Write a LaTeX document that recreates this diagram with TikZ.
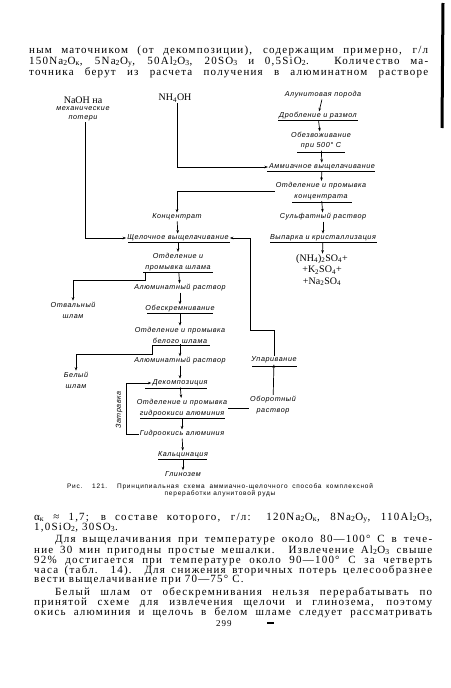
\documentclass[tikz,border=0pt]{standalone}
\usepackage{fontspec}
\setmainfont{Liberation Serif}
\newfontfamily\bodyfont[LetterSpace=11]{Liberation Serif}
\newfontfamily\lblfont[LetterSpace=8]{Liberation Sans}
\newfontfamily\capfont[LetterSpace=12]{Liberation Sans}
\usetikzlibrary{arrows.meta}
\newcommand{\sbs}[1]{\textsubscript{#1}}
\begin{document}
\begin{tikzpicture}[x=1pt,y=-1pt,
  lab/.style={font=\lblfont\fontsize{7.2}{11}\selectfont\itshape, inner sep=1pt, align=center},
  chem/.style={font=\fontsize{10}{11.5}\selectfont, inner sep=0.5pt, align=center},
  bodyline/.style={anchor=base west, inner sep=0pt, font=\bodyfont\fontsize{11}{12}\selectfont},
  capline/.style={inner sep=0pt, font=\capfont\fontsize{6.5}{7}\selectfont},
  arr/.style={-{Stealth[length=3.5pt,width=2.6pt]}, line width=0.7pt},
  ln/.style={line width=0.7pt},
  ul/.style={line width=0.8pt}]
\useasboundingbox (0,0) rectangle (450,688);
\fill[white] (0,0) rectangle (450,688);

% top text
\node[bodyline] (t1) at (29,53) {\makebox[399pt][s]{ным маточником (от декомпозиции), содержащим примерно, г/л}};
\node[bodyline] (t2) at (29,64) {\makebox[399pt][s]{150Na\sbs{2}O\sbs{к}, 5Na\sbs{2}O\sbs{у}, 50Al\sbs{2}O\sbs{3}, 20SO\sbs{3} и 0,5SiO\sbs{2}. Количество ма-}};
\node[bodyline] (t3) at (29,75) {\makebox[399pt][s]{точника берут из расчета получения в алюминатном растворе}};

% flowchart nodes
\node[chem] (naoh) at (83,100) {NaOH на};
\node[lab] (naoh2) at (83,114) {механические\\[-2pt]потери};
\node[chem] (nh4) at (175,98) {NH\sbs{4}OH};
\node[lab] (alun) at (323,95) {Алунитовая порода};
\node[lab] (drob) at (318,116) {Дробление и размол};
\node[lab] (obez) at (321,141) {Обезвоживание\\[-1pt]при 500° С};
\node[lab] (amm) at (322,167) {Аммиачное выщелачивание};
\node[lab] (otdk) at (321,191) {Отделение и промывка\\концентрата};
\node[lab] (konc) at (177,217) {Концентрат};
\node[lab] (sulf) at (323,217) {Сульфатный раствор};
\node[lab] (vyp) at (323,238) {Выпарка и кристаллизация};
\node[chem] (salts) at (322,270) {(NH\sbs{4})\sbs{2}SO\sbs{4}+\\+K\sbs{2}SO\sbs{4}+\\+Na\sbs{2}SO\sbs{4}};
\node[lab] (shch) at (178,238) {Щелочное выщелачивание};
\node[lab] (otds) at (178,262) {Отделение и\\промывка шлама};
\node[lab] (otv) at (73,310) {Отвальный\\шлам};
\node[lab] (alr1) at (180,288) {Алюминатный раствор};
\node[lab] (obes) at (180,309) {Обескремнивание};
\node[lab] (otdb) at (180,335) {Отделение и промывка\\белого шлама};
\node[lab] (bel) at (76,380) {Белый\\шлам};
\node[lab] (alr2) at (180,361) {Алюминатный раствор};
\node[lab] (dek) at (180,383) {Декомпозиция};
\node[lab] (otdg) at (182,408) {Отделение и промывка\\гидроокиси алюминия};
\node[lab] (obor) at (273,405) {Оборотный\\раствор};
\node[lab] (upar) at (274,360) {Упаривание};
\node[lab] (gidr) at (182,434) {Гидроокись алюминия};
\node[lab] (kalc) at (183,455) {Кальцинация};
\node[lab] (glin) at (183,474) {Глинозем};
\node[lab, rotate=90] (zatr) at (119,410) {Затравка};

% underlines
\draw[ul] (278,120) -- (358,120);
\draw[ul] (297,152) -- (345,152);
\draw[ul] (267,171) -- (375,171);
\draw[ul] (292,202) -- (352,202);
\draw[ul] (270,242) -- (377,242);
\draw[ul] (128,242) -- (230,242);
\draw[ul] (143,272) -- (213,272);
\draw[ul] (147,313) -- (213,313);
\draw[ul] (152,345) -- (210,345);
\draw[ul] (145,388) -- (207,388);
\draw[ul] (140,418) -- (225,418);
\draw[ul] (252,366) -- (297,366);
\draw[ul] (158,459) -- (207,459);

% connectors
\coordinate (u2) at (145,272);
\coordinate (u3) at (152,345);
\coordinate (r1) at (250,330);
\draw[arr] (alun) -- (drob);
\draw[arr] (drob) -- (obez);
\draw[arr] (obez) -- (amm);
\draw[arr] ([xshift=2pt]nh4.south) |- (amm.west);
\draw[arr] (amm) -- (otdk);
\draw[arr] (otdk.west) -| (konc.north);
\draw[arr] (otdk) -- (sulf);
\draw[arr] (sulf) -- (vyp);
\draw[arr] (vyp) -- (salts);
\draw[arr] (konc) -- (shch);
\draw[arr] ([xshift=2.5pt]naoh2.south) |- (shch.west);
\draw[arr] (upar.north) |- (r1) |- (shch.east);
\draw[arr] (shch) -- (otds);
\draw[arr] (otds) -- (alr1);
\draw[arr] (u2) -- ++(0,8) -| (otv.north);
\draw[arr] (alr1) -- (obes);
\draw[arr] (obes) -- (otdb);
\draw[arr] (u3) -- ++(0,9) -| (bel.north);
\draw[arr] (otdb) -- (alr2);
\draw[arr] (alr2) -- (dek);
\draw[arr] (dek) -- (otdg);
\draw[arr] (otdg) -- (gidr);
\draw[arr] (gidr.west) -- ++(-12,0) |- (dek.west);
\draw[ln] (otdg.east) -- (obor.west |- otdg.east);
\draw[arr] (obor) -- (upar);
\draw[arr] (gidr) -- (kalc);
\draw[arr] (kalc) -- (glin);

% caption
\node[capline] (cap1) at (220,487) {\makebox[306pt][s]{Рис. 121. Принципиальная схема аммиачно-щелочного способа комплексной}};
\node[capline] (cap2) at (220,494) {переработки алунитовой руды};

% bottom text
\node[bodyline] (b1) at (34,520) {\makebox[398pt][s]{α\sbs{к} ≈ 1,7; в составе которого, г/л: 120Na\sbs{2}O\sbs{к}, 8Na\sbs{2}O\sbs{у}, 110Al\sbs{2}O\sbs{3},}};
\node[bodyline] (b2) at (34,530) {1,0SiO\sbs{2}, 30SO\sbs{3}.};
\node[bodyline] (b3) at (55,542) {\makebox[377pt][s]{Для выщелачивания при температуре около 80—100° С в тече-}};
\node[bodyline] (b4) at (34,553) {\makebox[398pt][s]{ние 30 мин пригодны простые мешалки. Извлечение Al\sbs{2}O\sbs{3} свыше}};
\node[bodyline] (b5) at (34,563) {\makebox[398pt][s]{92\% достигается при температуре около 90—100° С за четверть}};
\node[bodyline] (b6) at (34,573) {\makebox[398pt][s]{часа (табл. 14). Для снижения вторичных потерь целесообразнее}};
\node[bodyline] (b7) at (34,582) {вести выщелачивание при 70—75° С.};
\node[bodyline] (b8) at (55,595) {\makebox[377pt][s]{Белый шлам от обескремнивания нельзя перерабатывать по}};
\node[bodyline] (b9) at (34,605) {\makebox[398pt][s]{принятой схеме для извлечения щелочи и глинозема, поэтому}};
\node[bodyline] (b10) at (34,615) {\makebox[398pt][s]{окись алюминия и щелочь в белом шламе следует рассматривать}};
\node[bodyline, font=\bodyfont\fontsize{9}{10}\selectfont] (pg) at (216,626) {299};
\draw[line width=1.2pt] (267,623) -- (274,623);

% scan edge
\draw[line width=3pt] (443,3) -- (442,128);
\end{tikzpicture}
\end{document}
